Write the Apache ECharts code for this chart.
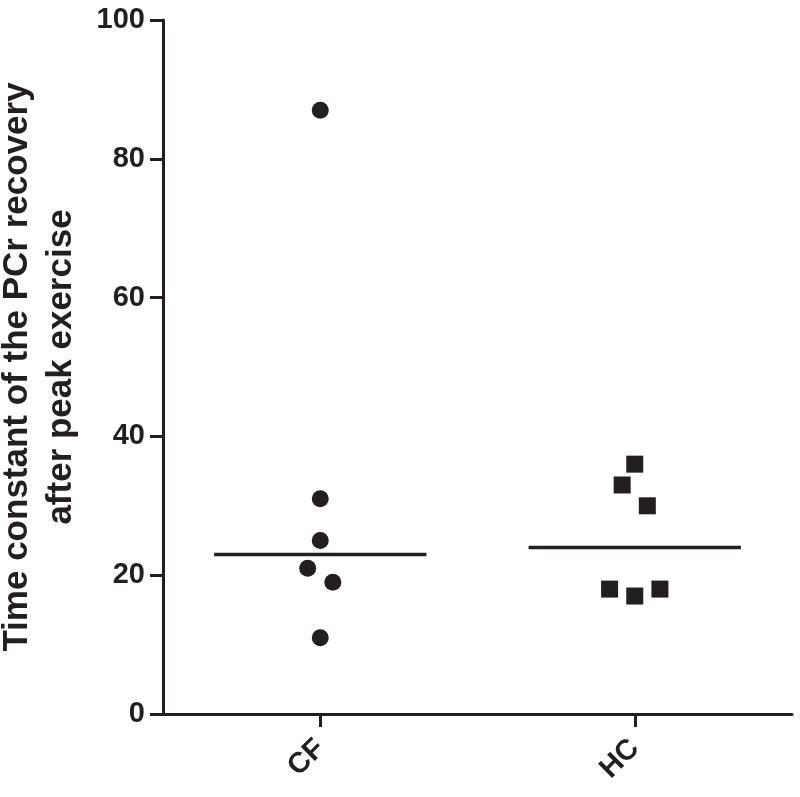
<!DOCTYPE html>
<html>
<head>
<meta charset="utf-8">
<script src="https://cdn.jsdelivr.net/npm/echarts@6/dist/echarts.min.js"></script>
<style>html,body{margin:0;padding:0;background:#fff;}#c{width:800px;height:797px;}</style>
</head>
<body>
<div id="c"></div>
<script>
var categories = ['CF', 'HC'];
var categoryPos = [1, 3];
var cfValues = [87, 31, 25, 21, 19, 11];
var cfJitter = [0, 0, 0, -0.08, 0.08, 0];
var hcValues = [36, 33, 30, 18, 17, 18];
var hcJitter = [0, -0.08, 0.08, -0.16, 0, 0.16];
var medians = [23, 24];
var yTicks = [0, 20, 40, 60, 80, 100];

var INK = '#231f20';
var FONT = '"Liberation Sans", Arial, Helvetica, sans-serif';
var HALF = 0.675;

function pts(vals, jit, c) {
  return vals.map(function (v, i) { return [c + jit[i], v]; });
}

var chart = echarts.init(document.getElementById('c'), null, {renderer: 'canvas'});
chart.setOption({
  animation: false,
  backgroundColor: '#fff',
  grid: {left: 163, top: 20, right: 8, bottom: 83, containLabel: false, outerBoundsMode: 'none'},
  xAxis: {
    type: 'value', min: 0, max: 4, interval: 1,
    axisLine: {show: true, onZero: false, lineStyle: {color: INK, width: 3}},
    axisTick: {show: true, customValues: categoryPos, length: 13, lineStyle: {color: INK, width: 3}},
    axisLabel: {
      customValues: categoryPos, rotate: 45, margin: 30,
      color: INK, fontFamily: FONT, fontWeight: 'bold', fontSize: 29,
      formatter: function (v) { var i = categoryPos.indexOf(v); return i >= 0 ? categories[i] : ''; }
    },
    splitLine: {show: false}
  },
  yAxis: {
    type: 'value', min: yTicks[0], max: yTicks[yTicks.length - 1], interval: 20,
    axisLine: {show: true, lineStyle: {color: INK, width: 3}},
    axisTick: {show: true, length: 13, lineStyle: {color: INK, width: 3}},
    axisLabel: {margin: 18, color: INK, fontFamily: FONT, fontWeight: 'bold', fontSize: 29},
    splitLine: {show: false},
    name: 'Time constant of the PCr recovery\nafter peak exercise',
    nameLocation: 'middle', nameRotate: 90, nameGap: 80,
    nameTextStyle: {color: INK, fontFamily: FONT, fontWeight: 'bold', fontSize: 35, lineHeight: 44}
  },
  series: [
    {type: 'scatter', symbol: 'circle', symbolSize: 17, itemStyle: {color: INK, opacity: 1},
     data: pts(cfValues, cfJitter, categoryPos[0])},
    {type: 'scatter', symbol: 'rect', symbolSize: 17, itemStyle: {color: INK, opacity: 1},
     data: pts(hcValues, hcJitter, categoryPos[1])},
    {type: 'line', symbol: 'none', lineStyle: {color: INK, width: 3.5},
     data: [[categoryPos[0] - HALF, medians[0]], [categoryPos[0] + HALF, medians[0]]]},
    {type: 'line', symbol: 'none', lineStyle: {color: INK, width: 3.5},
     data: [[categoryPos[1] - HALF, medians[1]], [categoryPos[1] + HALF, medians[1]]]}
  ]
});
</script>
</body>
</html>
